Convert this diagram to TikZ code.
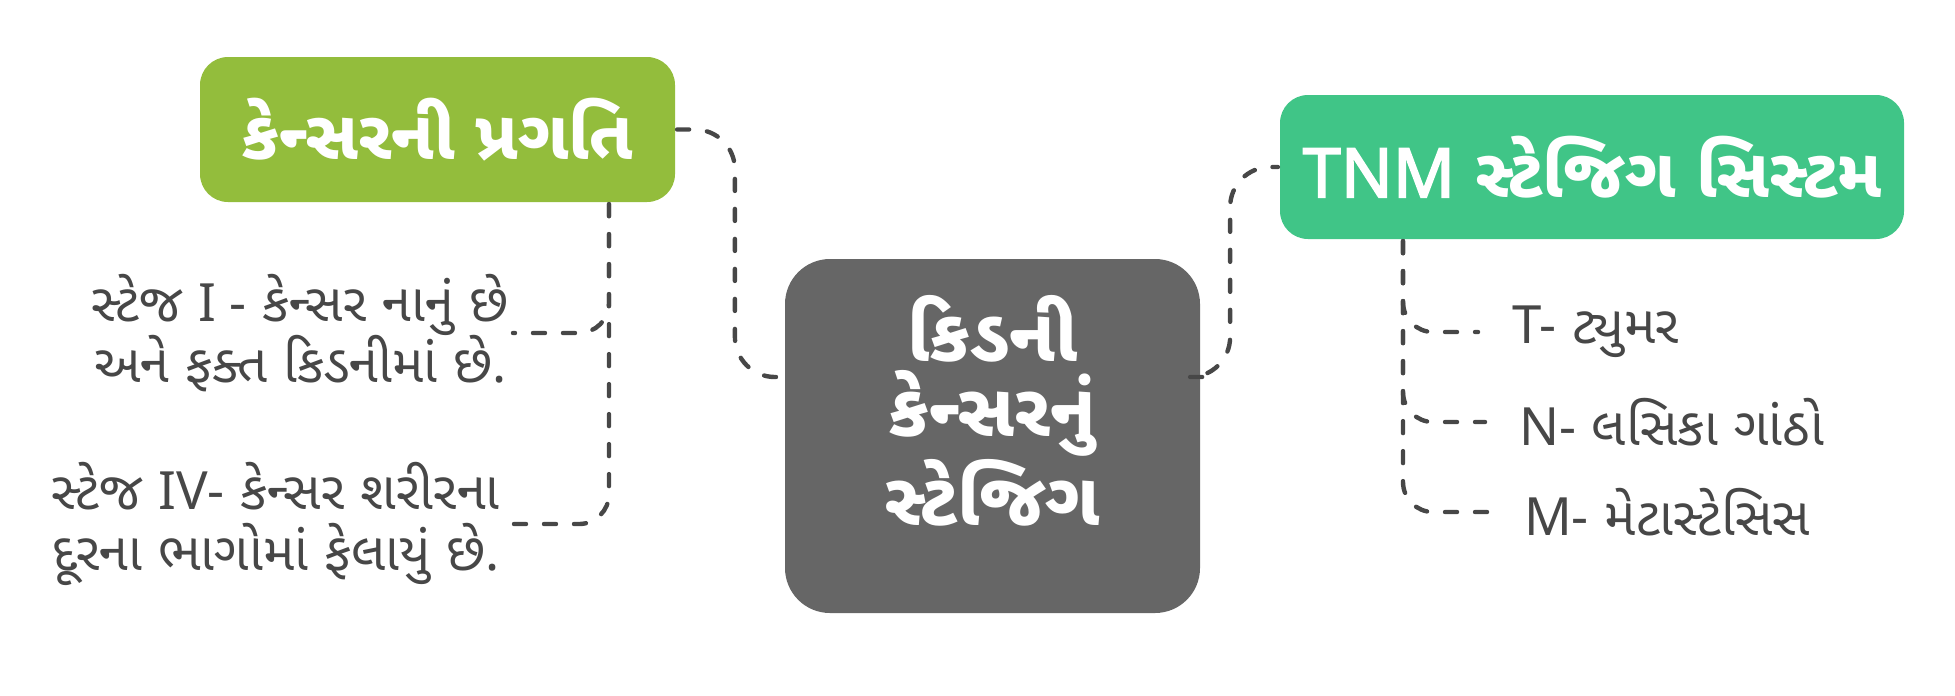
\documentclass[tikz,border=0pt]{standalone}
\usepackage{fontspec}
\setmainfont{Noto Sans Gujarati UI}[Script=Gujarati]
\newfontfamily\lat{Noto Sans}[AutoFakeBold=2.5]
\usetikzlibrary{positioning}

\definecolor{progreen}{HTML}{93BD3C}
\definecolor{tnmgreen}{HTML}{40C587}
\definecolor{kgray}{HTML}{666666}
\definecolor{inkgray}{HTML}{474747}

\tikzset{
every picture/.style={
line width=1.2pt
}}

\begin{document}
\begin{tikzpicture}[auto,
block/.style = {rectangle, rounded corners=0.28cm, text=white, inner sep=0,
  font=\fontsize{19.5}{23}\selectfont\bfseries},
link/.style = {draw=inkgray, line width=1.25pt, dash pattern=on 0.12cm off 0.18cm,
  line cap=round, rounded corners=0.4cm},
leaf/.style = {text=inkgray, align=center, font=\fontsize{15}{17.5}\selectfont}]
\useasboundingbox (0,0) rectangle (19.55,-6.95);

\node[block, fill=progreen, minimum width=4.75cm, minimum height=1.45cm] (prog) at (4.375,-1.295) {કેન્સરની પ્રગતિ};
\node[block, fill=kgray, minimum width=4.15cm, minimum height=3.54cm, rounded corners=0.45cm] (kc) at (9.925,-4.36) {};
\node[text=white, align=center, font=\fontsize{21}{21.3}\selectfont\bfseries] (kct) at ([yshift=0.25cm]kc.center) {કિડની\\કેન્સરનું\\સ્ટેજિગ};
\node[block, fill=tnmgreen, minimum width=6.24cm, minimum height=1.44cm] (tnm) at (15.92,-1.67) {{\lat TNM} સ્ટેજિગ સિસ્ટમ};

\coordinate (kcl) at ([yshift=0.59cm]kc.west);
\coordinate (kcr) at ([yshift=0.59cm]kc.east);
\draw [link] (prog.east) -| ([xshift=-0.48cm]kcl) -- (kcl);
\draw [link] (kcr) -- ([xshift=0.28cm]kcr) |- (tnm.west);

% stages
\node[leaf, anchor=east, inner xsep=0.02cm] (s1) at (5.13,-3.33) {સ્ટેજ {\lat I -} કેન્સર નાનું છે\\અને ફક્ત કિડનીમાં છે{\lat .}};
\node[leaf, anchor=east, inner xsep=0.1cm] (s4) at (5.12,-5.24) {સ્ટેજ {\lat IV-} કેન્સર શરીરના\\દૂરના ભાગોમાં ફેલાયું છે{\lat .}};
\coordinate (pb) at ([xshift=1.715cm]prog.south);
\draw [link, rounded corners=0.3cm] (pb) |- (s1.east);
\draw [link, rounded corners=0.3cm] (pb) |- (s4.east);

% tnm
\node[leaf, anchor=west, inner xsep=0.32cm] (t) at (14.78,-3.32) {{\lat T-} ટ્યુમર};
\node[leaf, anchor=west, inner xsep=0.32cm] (n) at (14.85,-4.22) {{\lat N-} લસિકા ગાંઠો};
\node[leaf, anchor=west, inner xsep=0.32cm] (m) at (14.90,-5.12) {{\lat M-} મેટાસ્ટેસિસ};
\coordinate (tb) at ([xshift=-1.89cm]tnm.south);
\draw [link, rounded corners=0.3cm] (tb) |- (t.west);
\draw [link, rounded corners=0.3cm] (tb) |- (n.west);
\draw [link, rounded corners=0.3cm] (tb) |- (m.west);
\end{tikzpicture}
\end{document}
